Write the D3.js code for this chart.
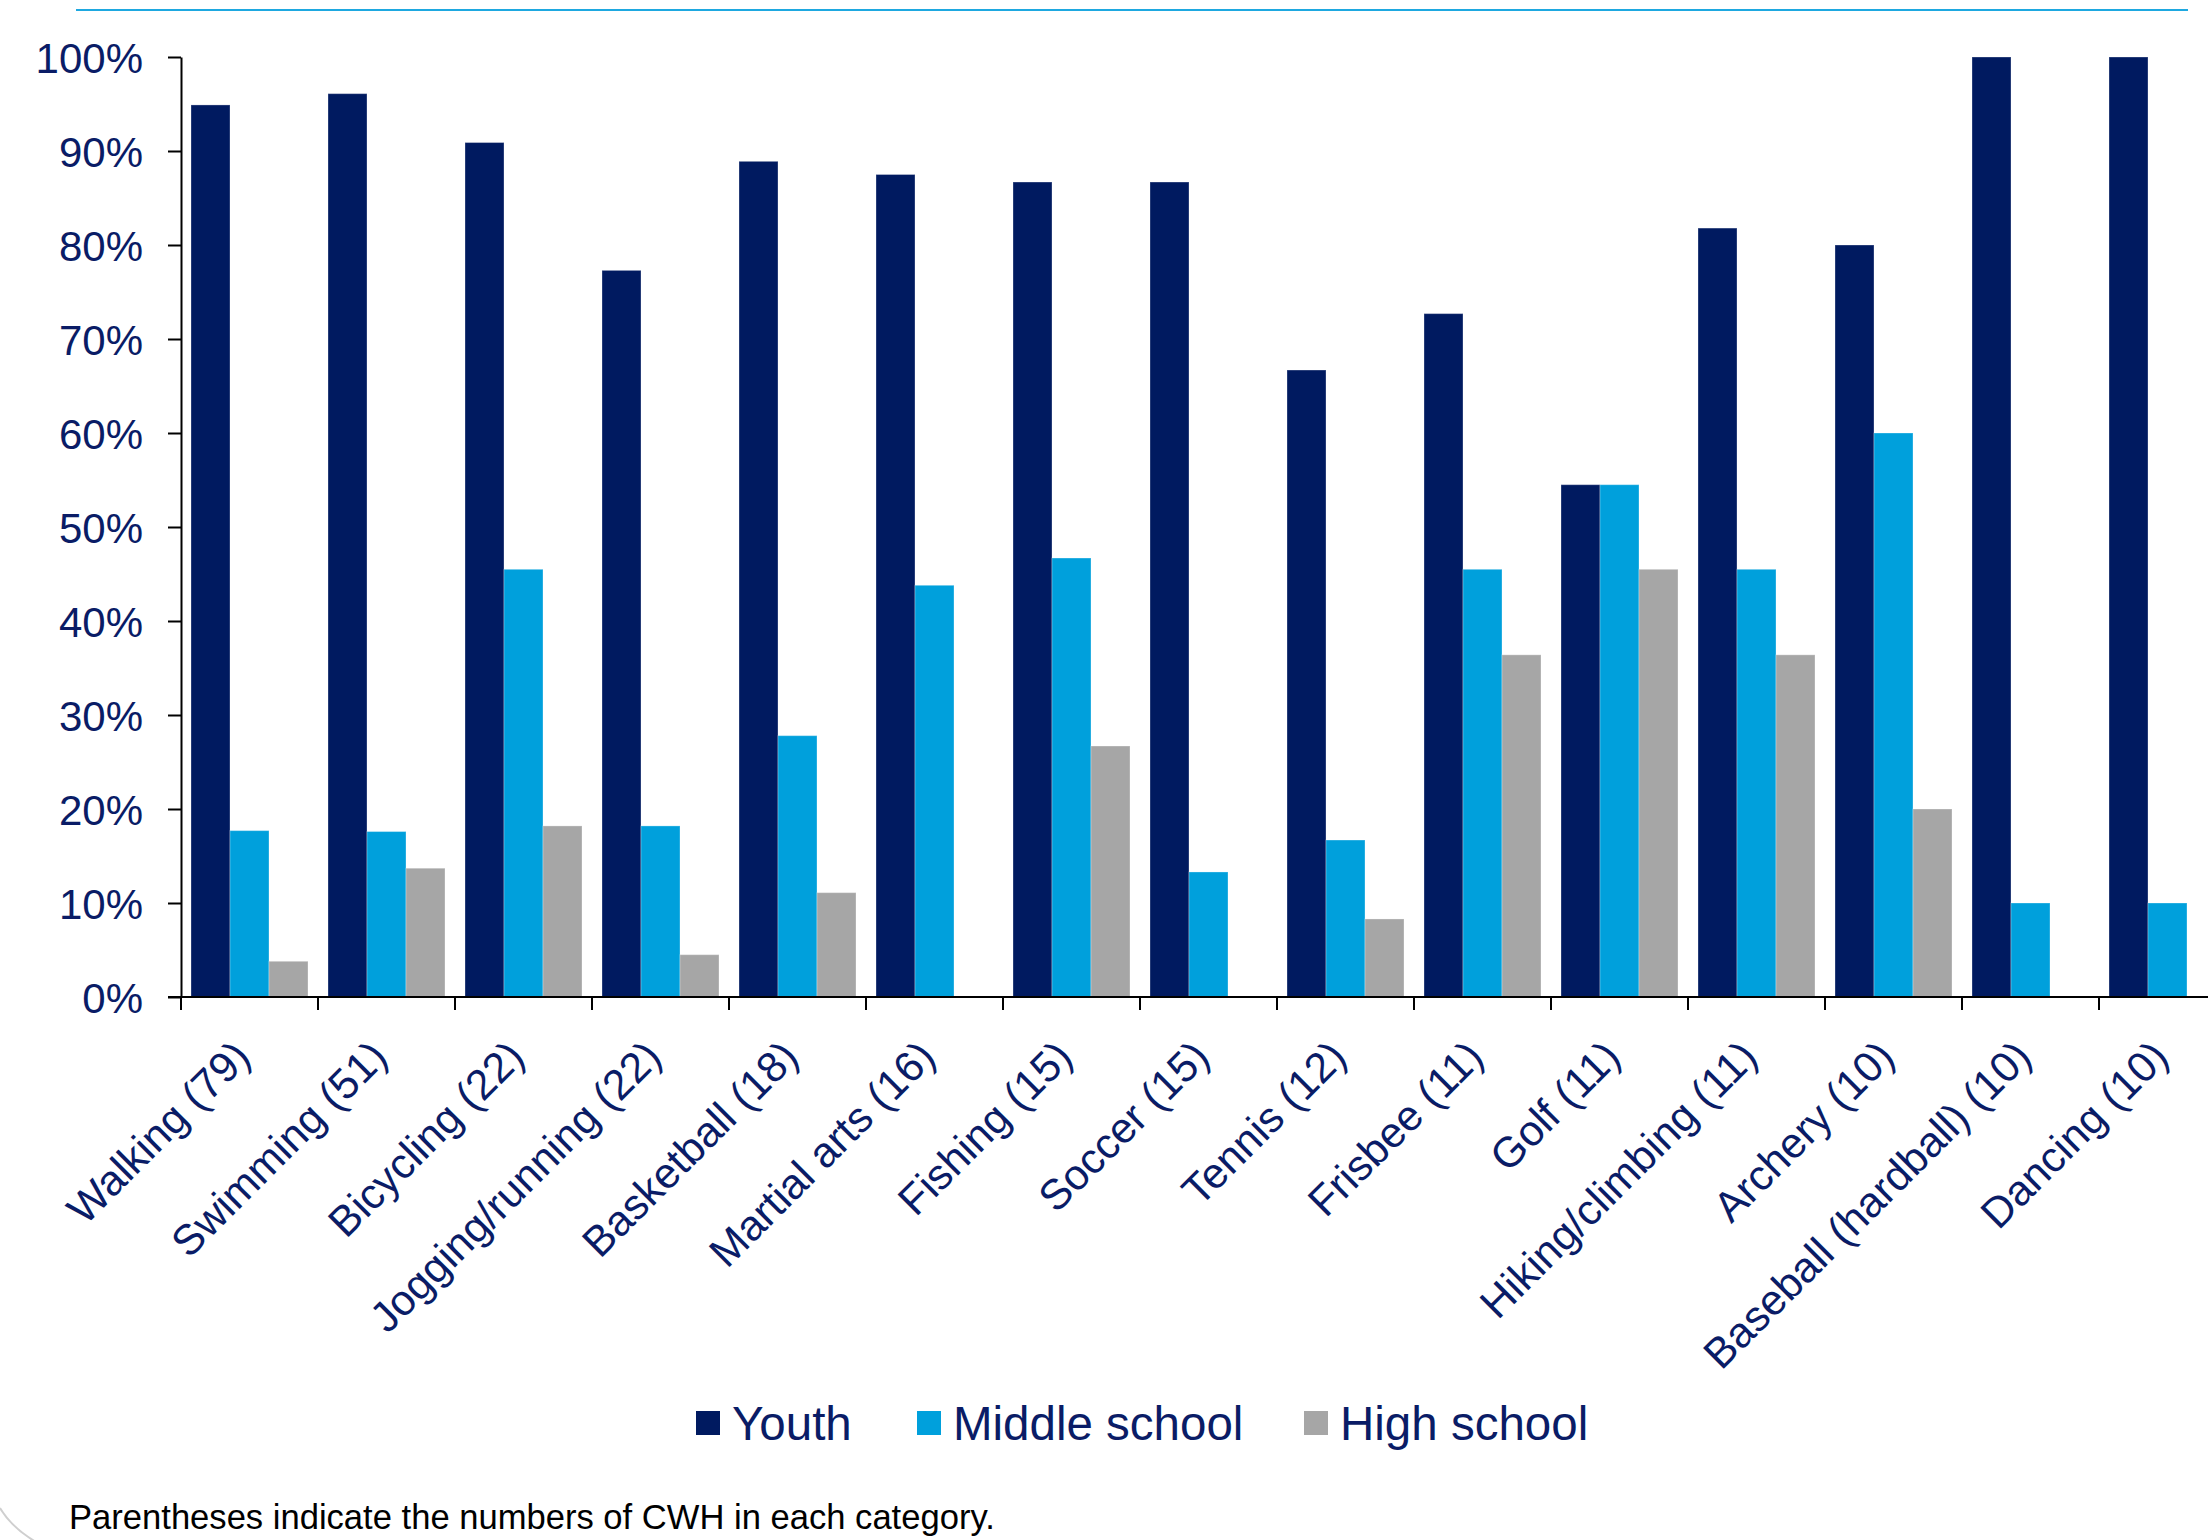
<!DOCTYPE html>
<meta charset="utf-8">
<style>
body { margin: 0; background: #fff; }
svg { display: block; font-family: "Liberation Sans", Arial, sans-serif; }
.axis path, .axis line { stroke: #000; stroke-width: 2px; }
.axis text { fill: #0a1c66; font-size: 42px; }
.xlabel { fill: #0a1c66; font-size: 42.5px; }
.legend text { fill: #0a1c66; font-size: 47.5px; }
.note { fill: #000; font-size: 34.6px; }
</style>
<body>
<script src="https://d3js.org/d3.v7.min.js"></script>
<script>

var width = 2208,
    height = 1540;

// activities (number of CWH in parentheses)
var categories = ["Walking (79)", "Swimming (51)", "Bicycling (22)", "Jogging/running (22)",
  "Basketball (18)", "Martial arts (16)", "Fishing (15)", "Soccer (15)", "Tennis (12)",
  "Frisbee (11)", "Golf (11)", "Hiking/climbing (11)", "Archery (10)",
  "Baseball (hardball) (10)", "Dancing (10)"];

var seriesNames = ["Youth", "Middle school", "High school"];

// percent values
var youth  = [94.9, 96.1, 90.9, 77.3, 88.9, 87.5, 86.7, 86.7, 66.7, 72.7, 54.5, 81.8, 80, 100, 100];
var middle = [17.7, 17.6, 45.5, 18.2, 27.8, 43.8, 46.7, 13.3, 16.7, 45.5, 54.5, 45.5, 60, 10, 10];
var high   = [3.8, 13.7, 18.2, 4.5, 11.1, 0, 26.7, 0, 8.3, 36.4, 45.5, 36.4, 20, 0, 0];

var yTicks = [0, 10, 20, 30, 40, 50, 60, 70, 80, 90, 100];

var colors = ["#001a60", "#00a0dc", "#a6a6a6"];

var series = [youth, middle, high];

var svg = d3.select("body").append("svg")
    .attr("width", width)
    .attr("height", height);

var x0 = 181, y0 = 997, yTop = 57, band = 137;

var x = d3.scaleBand()
    .domain(categories)
    .range([x0, x0 + band * categories.length]);

var xs = d3.scaleBand()
    .domain(seriesNames)
    .range([10, band - 10]);

var y = d3.scaleLinear()
    .domain([0, 100])
    .range([y0, yTop]);

var color = d3.scaleOrdinal().domain(seriesNames).range(colors);

// top rule
svg.append("line")
    .attr("x1", 76).attr("x2", 2188)
    .attr("y1", 10).attr("y2", 10)
    .attr("stroke", "#1ea8e0")
    .attr("stroke-width", 2);

// slide corner arc
svg.append("path")
    .attr("d", "M0,1508 Q12,1528 36,1542")
    .attr("fill", "none")
    .attr("stroke", "#cfcfcf")
    .attr("stroke-width", 2);

// bars
var groups = svg.append("g").selectAll("g")
    .data(categories)
  .enter().append("g")
    .attr("transform", function(d) { return "translate(" + x(d) + ",0)"; });

groups.selectAll("rect")
    .data(function(d, i) {
      return seriesNames.map(function(s, k) { return {key: s, value: series[k][i]}; });
    })
  .enter().append("rect")
    .filter(function(d) { return d.value > 0; })
    .attr("x", function(d) { return xs(d.key); })
    .attr("width", xs.bandwidth())
    .attr("y", function(d) { return y(d.value); })
    .attr("height", function(d) { return y0 - y(d.value); })
    .attr("fill", function(d) { return color(d.key); })
    .attr("stroke", "rgba(255,255,255,0.3)")
    .attr("stroke-width", 1);

// y axis
svg.append("g")
    .attr("class", "axis")
    .attr("transform", "translate(" + x0 + ",0)")
    .call(d3.axisLeft(y)
      .tickValues(yTicks)
      .tickSize(13)
      .tickSizeOuter(0)
      .tickPadding(25)
      .tickFormat(function(d) { return d + "%"; }))
    .call(function(g) { g.selectAll("text").attr("dy", "0.36em"); });

// x axis line and boundary ticks
var xa = svg.append("g").attr("class", "axis");
xa.append("line")
    .attr("x1", x0 - 13).attr("x2", x.range()[1])
    .attr("y1", y0).attr("y2", y0);
xa.selectAll(".bt")
    .data(categories.map(function(c) { return x(c); }).concat([x.range()[1]]))
  .enter().append("line")
    .attr("x1", function(d) { return d; }).attr("x2", function(d) { return d; })
    .attr("y1", y0).attr("y2", y0 + 13);

// rotated category labels
svg.append("g").selectAll("text")
    .data(categories)
  .enter().append("text")
    .attr("class", "xlabel")
    .attr("text-anchor", "end")
    .attr("transform", function(d) {
      return "translate(" + (x(d) + x.bandwidth() / 2 + 3) + "," + (y0 + 62) + ") rotate(-45)";
    })
    .text(function(d) { return d; });

// legend
var legendX = [696, 917, 1304];
var legend = svg.append("g").attr("class", "legend")
  .selectAll("g")
    .data(seriesNames)
  .enter().append("g")
    .attr("transform", function(d, i) { return "translate(" + legendX[i] + ",1411)"; });

legend.append("rect")
    .attr("width", 24)
    .attr("height", 24)
    .attr("fill", function(d) { return color(d); });

legend.append("text")
    .attr("x", 36)
    .attr("y", 29)
    .text(function(d) { return d; });

svg.append("text")
    .attr("class", "note")
    .attr("x", 69)
    .attr("y", 1529)
    .text("Parentheses indicate the numbers of CWH in each category.");

</script>
